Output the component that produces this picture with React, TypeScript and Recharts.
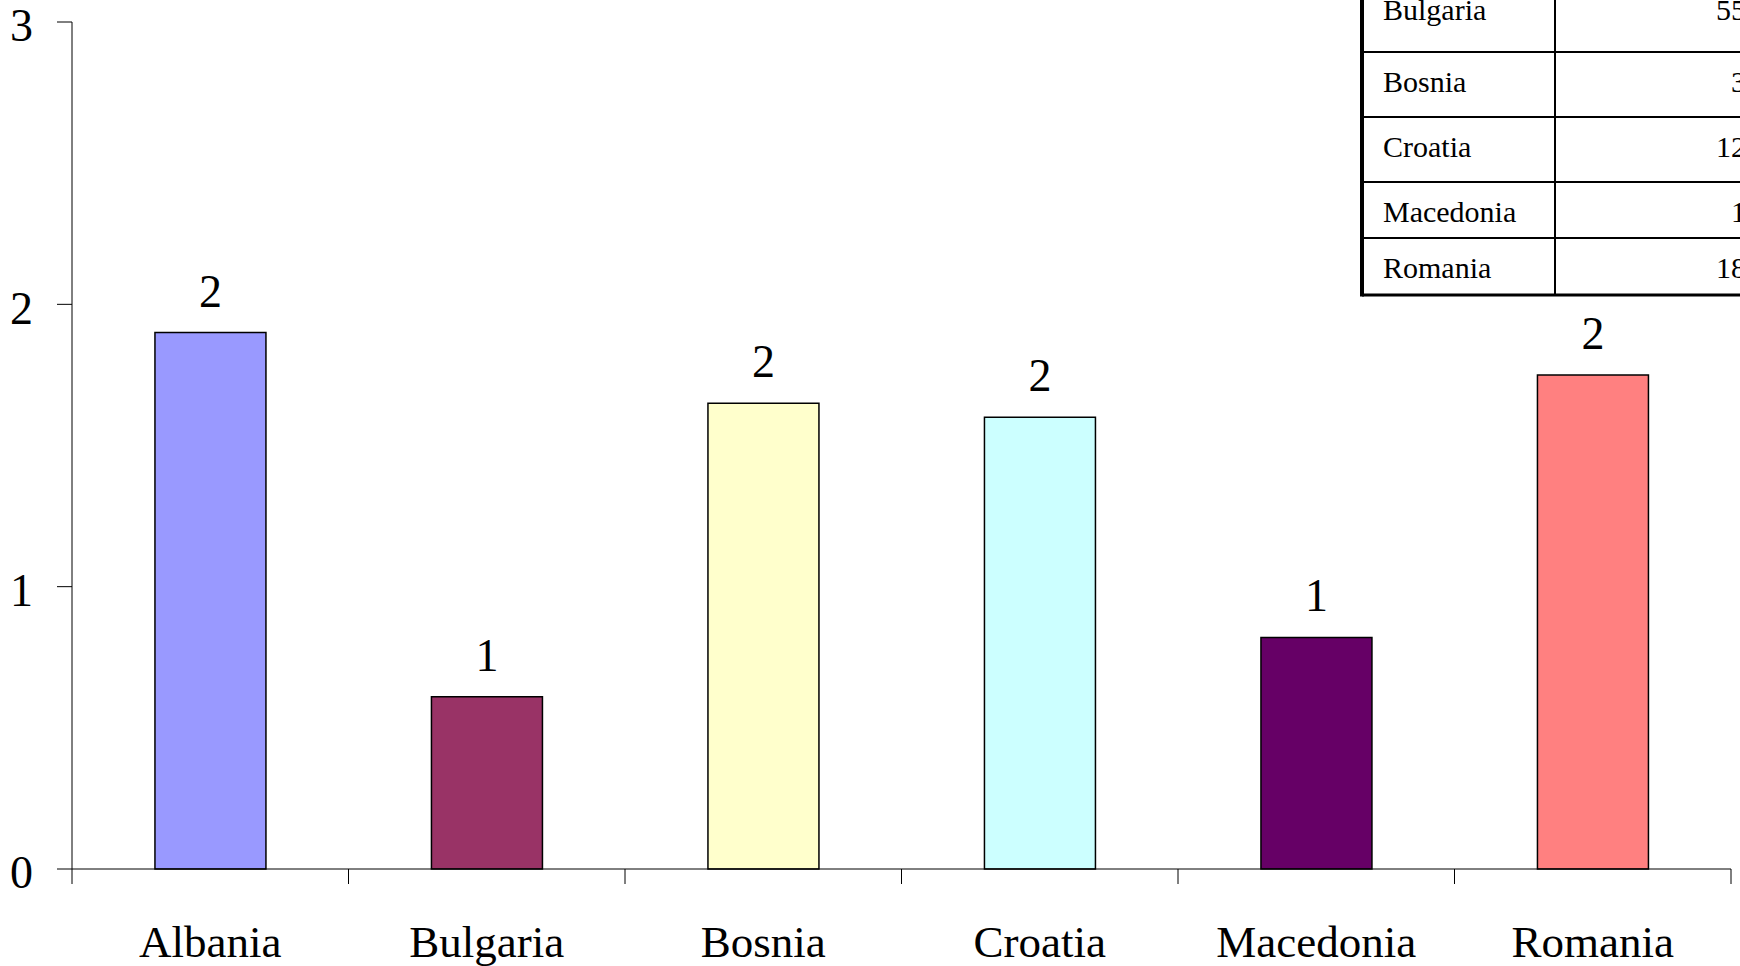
import React from 'react';
import { BarChart, Bar, XAxis, YAxis, Cell, LabelList } from 'recharts';

const countries = ['Albania', 'Bulgaria', 'Bosnia', 'Croatia', 'Macedonia', 'Romania'];
const values = [1.9, 0.61, 1.65, 1.6, 0.82, 1.75];
const barColors = ['#9999FF', '#993366', '#FFFFCC', '#CCFFFF', '#660066', '#FF8080'];
const yTicks = [0, 1, 2, 3];

// the small table in the top right corner (cut off by the picture edge)
const tableCountries = ['Bulgaria', 'Bosnia', 'Croatia', 'Macedonia', 'Romania'];
const tableValues = ['55', '3', '12', '1', '18'];

const data = countries.map((name, i) => ({ name, value: values[i] }));

const FONT = "'Liberation Serif', 'Times New Roman', serif";

const CategoryTick = (props: any) => {
  const { x, y, payload, index } = props;
  const half = payload.offset || props.width / countries.length / 2;
  return (
    <g>
      <line x1={x - half} y1={y} x2={x - half} y2={y + 15} stroke="#000" />
      {index === countries.length - 1 && (
        <line x1={x + half} y1={y} x2={x + half} y2={y + 15} stroke="#000" />
      )}
      <text x={x} y={y + 88} textAnchor="middle" fontSize={45} fontFamily={FONT} fill="#000">
        {payload.value}
      </text>
    </g>
  );
};

// y positions of the lines under each table row
const rowLines = [52, 117, 182, 238, 295];

const CornerTable = () => {
  const left = 1362;
  const divider = 1555;
  return (
    <svg
      width={1740}
      height={320}
      style={{ position: 'absolute', left: 0, top: 0, pointerEvents: 'none' }}
    >
      <rect x={left} y={0} width={1740 - left} height={rowLines[rowLines.length - 1]} fill="#fff" />
      {tableCountries.map((c, i) => {
        const base = (i === 0 ? -20 : rowLines[i - 1]) + 40;
        return (
          <g key={c}>
            <text x={1383} y={base} fontSize={30} fontFamily={FONT} fill="#000">
              {c}
            </text>
            <text x={1746} y={base} fontSize={30} fontFamily={FONT} fill="#000" textAnchor="end">
              {tableValues[i]}
            </text>
          </g>
        );
      })}
      {rowLines.map((ly, i) => (
        <line
          key={ly}
          x1={left}
          x2={1740}
          y1={ly}
          y2={ly}
          stroke="#000"
          strokeWidth={i === rowLines.length - 1 ? 3 : 2}
        />
      ))}
      <line x1={divider} x2={divider} y1={0} y2={rowLines[rowLines.length - 1]} stroke="#000" strokeWidth={2} />
      <line x1={left} x2={left} y1={0} y2={rowLines[rowLines.length - 1] + 1.5} stroke="#000" strokeWidth={4} />
    </svg>
  );
};

export default function App() {
  return (
    <div
      style={{
        position: 'absolute',
        left: 0,
        top: 0,
        width: 1740,
        height: 966,
        overflow: 'hidden',
        background: '#fff',
      }}
    >
      <BarChart
        width={1740}
        height={966}
        data={data}
        margin={{ top: 22, right: 9, left: 0, bottom: 0 }}
        barCategoryGap="30%"
      >
        <XAxis
          dataKey="name"
          height={97}
          axisLine={{ stroke: '#000' }}
          tickLine={false}
          tickSize={0}
          tickMargin={0}
          interval={0}
          tick={<CategoryTick />}
        />
        <YAxis
          width={72}
          domain={[0, 3]}
          ticks={yTicks}
          interval={0}
          axisLine={{ stroke: '#000' }}
          tickLine={{ stroke: '#000' }}
          tickSize={15}
          tickMargin={24}
          tick={{ fontSize: 46, fill: '#000', fontFamily: FONT, dy: 3 }}
        />
        <Bar dataKey="value" stroke="#000" strokeWidth={1.5} isAnimationActive={false}>
          {data.map((d, i) => (
            <Cell key={d.name} fill={barColors[i]} />
          ))}
          <LabelList
            dataKey="value"
            position="top"
            offset={26}
            formatter={(v: any) => Math.round(Number(v))}
            fontSize={46}
            fill="#000"
            fontFamily={FONT}
          />
        </Bar>
      </BarChart>
      <CornerTable />
    </div>
  );
}
